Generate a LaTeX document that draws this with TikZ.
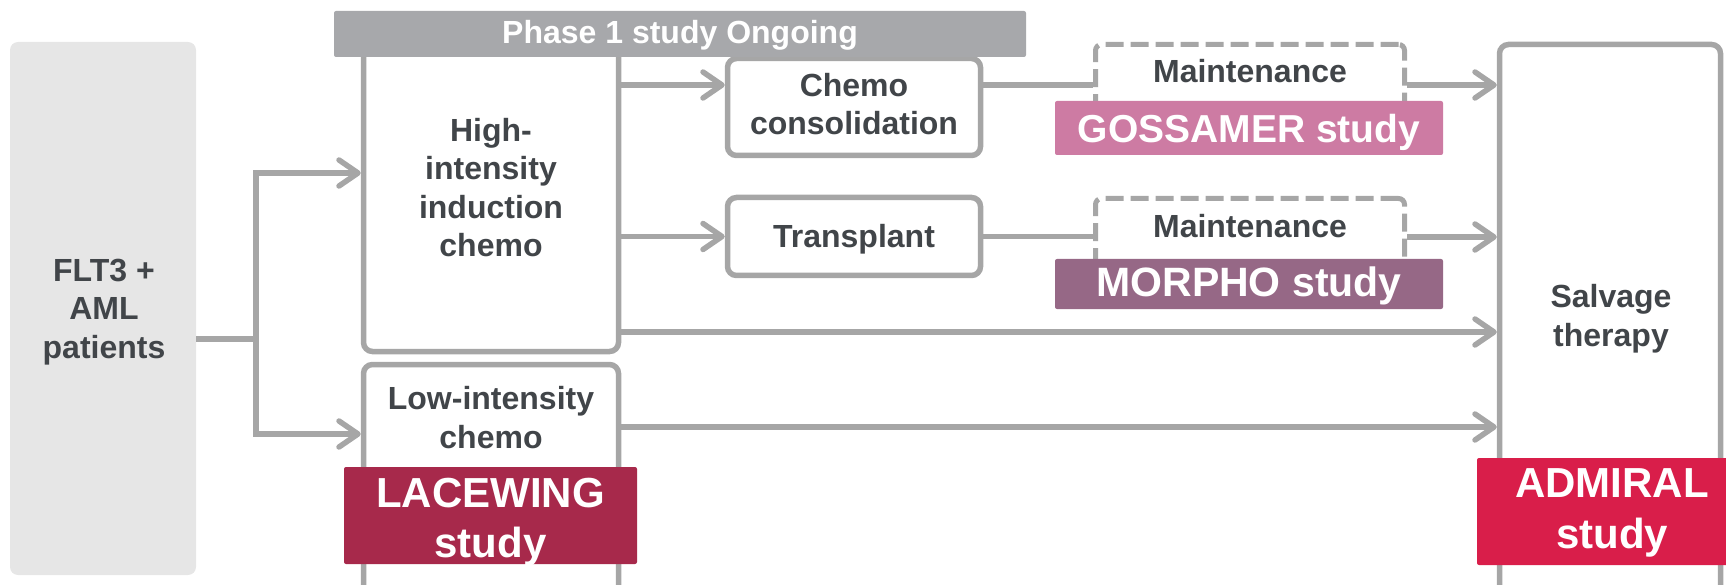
\documentclass[tikz,border=0pt]{standalone}
\usepackage{fontspec}
\setmainfont{Liberation Sans}
\usetikzlibrary{arrows.meta}
\definecolor{linegray}{HTML}{A6A6A6}
\definecolor{leftgray}{HTML}{E6E6E6}
\definecolor{phasegray}{HTML}{A7A8AB}
\definecolor{txtgray}{HTML}{414549}
\definecolor{gossamer}{HTML}{CD7BA3}
\definecolor{morpho}{HTML}{966886}
\definecolor{lacewing}{HTML}{A7294B}
\definecolor{admiral}{HTML}{D91E4A}
\begin{document}
\begin{tikzpicture}[x=1pt,y=-1pt,
  box/.style={draw=linegray, line width=5.5pt, fill=white, rounded corners=9pt, inner sep=0pt},
  dbox/.style={draw=linegray, line width=5pt, fill=white, rounded corners=6pt, inner sep=0pt, dash pattern=on 18pt off 7pt},
  bar/.style={inner sep=0pt, rounded corners=2pt, draw=none},
  txt/.style={text=txtgray, font=\fontsize{32}{38.5}\selectfont\bfseries, align=center, anchor=base, inner sep=0pt},
  bartxt/.style={text=white, align=center, anchor=base, inner sep=0pt},
  conn/.style={draw=linegray, line width=5.5pt},
  arr/.style={conn, -{Straight Barb[length=19pt,width=26pt,round]}}]
\clip (0,0) rectangle (1726,585);
% patients
\node[bar, fill=leftgray, rounded corners=8pt, minimum width=186pt, minimum height=533pt] (pat) at (103,308.5) {};
\node[txt] (patT) at (104,358) {FLT3 +\\AML\\patients};
% high / low intensity
\node[box, minimum width=255pt, minimum height=310pt] (high) at (491,196.5) {};
\node[txt] (highT) at (491,257) {High-\\intensity\\induction\\chemo};
\node[box, minimum width=255pt, minimum height=280pt] (low) at (491,504.5) {};
\node[txt] (lowT) at (491,448) {Low-intensity\\chemo};
% chemo consolidation / transplant
\node[box, minimum width=253pt, minimum height=97pt] (cons) at (854,107) {};
\node[txt] (consT) at (854,135) {Chemo\\consolidation};
\node[box, minimum width=253pt, minimum height=78pt] (trans) at (854,236.5) {};
\node[txt] (transT) at (854,248) {Transplant};
% maintenance
\node[dbox, minimum width=309pt, minimum height=81pt] (m1) at (1250,85) {};
\node[txt] (m1T) at (1250,83) {Maintenance};
\node[dbox, minimum width=309pt, minimum height=77pt] (m2) at (1250,237) {};
\node[txt] (m2T) at (1250,238) {Maintenance};
% salvage
\node[box, minimum width=221pt, minimum height=600pt] (salv) at (1610,344.5) {};
\node[txt] (salvT) at (1611,346) {Salvage\\therapy};
% bars
\node[bar, fill=phasegray, minimum width=692pt, minimum height=46pt] (phase) at (680,34) {};
\node[bartxt, font=\fontsize{32}{38}\selectfont\bfseries] (phaseT) at (680,44) {Phase 1 study Ongoing};
\node[bar, fill=gossamer, minimum width=388pt, minimum height=54pt] (goss) at (1249,128) {};
\node[bartxt, font=\fontsize{39}{46}\selectfont\bfseries] (gossT) at (1249,143) {GOSSAMER study};
\node[bar, fill=morpho, minimum width=388pt, minimum height=50pt] (morph) at (1249,284) {};
\node[bartxt, font=\fontsize{41}{48}\selectfont\bfseries] (morphT) at (1249,297) {MORPHO study};
\node[bar, fill=lacewing, minimum width=293pt, minimum height=97pt] (lace) at (490.5,515.5) {};
\node[bartxt, font=\fontsize{42}{50}\selectfont\bfseries] (laceT) at (490.5,557) {LACEWING\\study};
\node[bar, fill=admiral, minimum width=252pt, minimum height=107pt] (adm) at (1603,511.5) {};
\node[bartxt, font=\fontsize{42}{51}\selectfont\bfseries] (admT) at (1612,548) {ADMIRAL\\study};
% connectors
\coordinate (split) at (256,339);
\draw[conn] (pat.east |- split) -- (split);
\draw[arr] (split) |- (high.west |- 0,173);
\draw[arr] (split) |- (low.west |- 0,434);
\draw[arr] (high.east |- 0,85) -- (cons.west |- 0,85);
\draw[arr] (high.east |- trans.west) -- (trans.west);
\draw[arr] (high.east |- 0,332) -- (salv.west |- 0,332);
\draw[arr] (low.east |- 0,427) -- (salv.west |- 0,427);
\draw[conn] (cons.east |- m1.west) -- (m1.west);
\draw[conn] (trans.east) -- (m2.west |- trans.east);
\draw[arr] (m1.east) -- (salv.west |- m1.east);
\draw[arr] (m2.east) -- (salv.west |- m2.east);
\end{tikzpicture}
\end{document}
